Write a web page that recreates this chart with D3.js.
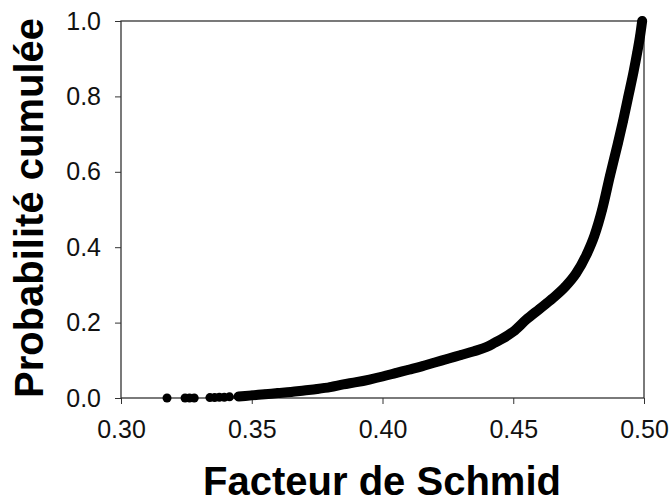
<!DOCTYPE html>
<html>
<head>
<meta charset="utf-8">
<script src="https://cdn.jsdelivr.net/npm/d3@7"></script>
<style>
  body { margin: 0; background: #fff; }
  svg { display: block; font-family: "Liberation Sans", Arial, sans-serif; }
  .axis path { display: none; }
  .axis line { stroke: #333; }
  .axis text { font-size: 25px; fill: #111; }
</style>
</head>
<body>
<svg class="chart"></svg>
<script>
// Cumulative distribution of Schmid factors
var schmid = [0.3176, 0.3245, 0.3262, 0.3280, 0.3340, 0.3358, 0.3376, 0.3395, 0.3415,
    0.345, 0.350, 0.355, 0.360, 0.365, 0.370, 0.375, 0.380, 0.385, 0.390, 0.395,
    0.400, 0.405, 0.410, 0.415, 0.420, 0.425, 0.430, 0.435, 0.440, 0.443, 0.446,
    0.450, 0.455, 0.460, 0.465, 0.470, 0.474, 0.478, 0.481, 0.484, 0.487, 0.490,
    0.492, 0.494, 0.496, 0.4975, 0.4985, 0.4993];
var probability = [0.000, 0.000, 0.000, 0.000, 0.001, 0.001, 0.002, 0.002, 0.003,
    0.004, 0.007, 0.010, 0.013, 0.016, 0.020, 0.024, 0.029, 0.036, 0.042, 0.049,
    0.057, 0.066, 0.075, 0.084, 0.094, 0.104, 0.114, 0.124, 0.136, 0.147, 0.158,
    0.176, 0.208, 0.236, 0.264, 0.296, 0.330, 0.380, 0.430, 0.500, 0.590, 0.675,
    0.735, 0.800, 0.865, 0.920, 0.960, 1.000];

var xTicks = [0.30, 0.35, 0.40, 0.45, 0.50];
var yTicks = [0.0, 0.2, 0.4, 0.6, 0.8, 1.0];

var xTitle = "Facteur de Schmid";
var yTitle = "Probabilité cumulée";

window.onload = function () {
    var width = 670, height = 502;
    var plot = { left: 121, right: 644, top: 21, bottom: 398 };
    var solidFrom = 0.342; // beyond this the markers merge into one thick band

    var svg = d3.select("svg.chart").attr("width", width).attr("height", height);

    var x = d3.scaleLinear().domain([0.30, 0.50]).range([plot.left, plot.right]);
    var y = d3.scaleLinear().domain([0, 1]).range([plot.bottom, plot.top]);

    // plot frame
    svg.append("rect")
        .attr("x", plot.left).attr("y", plot.top)
        .attr("width", plot.right - plot.left).attr("height", plot.bottom - plot.top)
        .attr("fill", "none").attr("stroke", "#333").attr("stroke-width", 1.3);

    svg.append("g").attr("class", "axis")
        .attr("transform", "translate(0," + plot.bottom + ")")
        .call(d3.axisBottom(x).tickValues(xTicks).tickSize(6).tickPadding(16).tickFormat(d3.format(".2f")));

    svg.append("g").attr("class", "axis")
        .attr("transform", "translate(" + plot.left + ",0)")
        .call(d3.axisLeft(y).tickValues(yTicks).tickSize(6).tickPadding(14).tickFormat(d3.format(".1f")));

    var pts = schmid.map(function (s, i) { return { s: s, p: probability[i] }; });

    svg.append("path")
        .datum(pts.filter(function (d) { return d.s >= solidFrom; }))
        .attr("fill", "none").attr("stroke", "#000")
        .attr("stroke-width", 10).attr("stroke-linecap", "round").attr("stroke-linejoin", "round")
        .attr("d", d3.line().curve(d3.curveMonotoneX)
            .x(function (d) { return x(d.s); }).y(function (d) { return y(d.p); }));

    svg.append("g").selectAll("circle")
        .data(pts)
        .join("circle")
        .attr("cx", function (d) { return x(d.s); })
        .attr("cy", function (d) { return y(d.p); })
        .attr("r", 4.5)
        .attr("fill", "#000");

    svg.append("text")
        .attr("x", 382).attr("y", 495)
        .attr("text-anchor", "middle")
        .attr("font-size", 40).attr("font-weight", "bold")
        .text(xTitle);

    svg.append("text")
        .attr("transform", "translate(43,208) rotate(-90)")
        .attr("text-anchor", "middle")
        .attr("font-size", 40).attr("font-weight", "bold")
        .text(yTitle);
};
</script>
</body>
</html>
